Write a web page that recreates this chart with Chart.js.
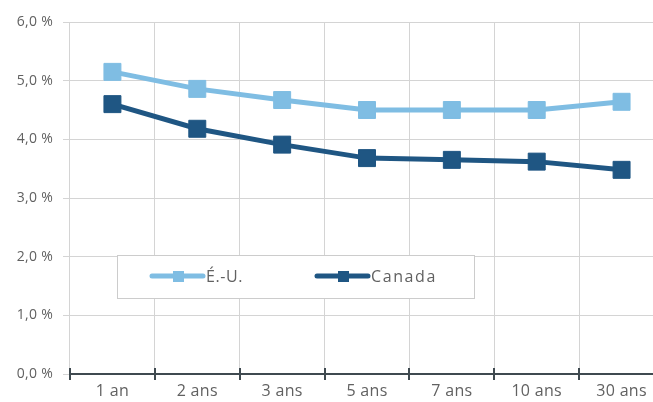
<!DOCTYPE html>
<html>
<head>
<meta charset="utf-8">
<script src="https://cdn.jsdelivr.net/npm/chart.js@4.4.1/dist/chart.umd.min.js"></script>
<style>
  html { margin: 0; padding: 0; background: #fff; overflow: hidden; }
  body { margin: 0; padding: 0; }
  #wrap { width: 665px; height: 402px; }
  canvas { display: block; }
</style>
</head>
<body>
<div id="wrap"><canvas id="chart" width="665" height="402"></canvas></div>
<script>
const categories = ['1 an', '2 ans', '3 ans', '5 ans', '7 ans', '10 ans', '30 ans'];
const usValues = [5.15, 4.86, 4.67, 4.50, 4.50, 4.50, 4.64];
const canadaValues = [4.60, 4.18, 3.91, 3.68, 3.65, 3.62, 3.48];
const seriesLabels = ['É.-U.', 'Canada'];
const yTicks = [0, 1, 2, 3, 4, 5, 6];

const FONT = '"Open Sans", Lato, sans-serif';
const TEXT = '#616161';

// a bit of letter spacing, closer to the original typeface
const spacing = {
  id: 'spacing',
  beforeDraw(chart) { chart.ctx.letterSpacing = '0.3px'; }
};

// dark tick marks crossing the x axis, at the category boundaries
const axisTicks = {
  id: 'axisTicks',
  afterDraw(chart) {
    const x = chart.scales.x;
    const ctx = chart.ctx;
    const step = (x.right - x.left) / categories.length;
    ctx.save();
    ctx.strokeStyle = '#3f4a50';
    ctx.lineWidth = 2;
    ctx.beginPath();
    ctx.moveTo(x.left, x.top);
    ctx.lineTo(x.right, x.top);
    for (let i = 0; i <= categories.length; i++) {
      const px = Math.round(x.left + i * step);
      ctx.moveTo(px, x.top - 6);
      ctx.lineTo(px, x.top + 6);
    }
    ctx.stroke();
    ctx.restore();
  }
};

// boxed legend sitting inside the plot
const boxLegend = {
  id: 'boxLegend',
  afterDraw(chart) {
    const ctx = chart.ctx;
    ctx.save();
    ctx.fillStyle = '#fff';
    ctx.strokeStyle = '#cccccc';
    ctx.lineWidth = 1;
    ctx.fillRect(117, 255, 357, 43);
    ctx.strokeRect(117.5, 255.5, 357, 43);
    const starts = [152, 317];
    const y = 276;
    chart.data.datasets.forEach((ds, i) => {
      const x0 = starts[i];
      ctx.strokeStyle = ds.borderColor;
      ctx.lineWidth = 5;
      ctx.lineCap = 'round';
      ctx.beginPath();
      ctx.moveTo(x0, y);
      ctx.lineTo(x0 + 51, y);
      ctx.stroke();
      ctx.fillStyle = ds.borderColor;
      ctx.fillRect(x0 + 21, y - 5, 11, 11);
      ctx.fillStyle = TEXT;
      ctx.font = '16px ' + FONT;
      ctx.letterSpacing = i === 0 ? '0.6px' : '1.6px';
      ctx.textBaseline = 'middle';
      ctx.fillText(ds.label, x0 + 54, y + 1);
    });
    ctx.restore();
  }
};

const series = (label, data, color) => ({
  label: label,
  data: data,
  borderColor: color,
  backgroundColor: color,
  borderWidth: 5,
  pointStyle: 'rect',
  pointRadius: 12,
  pointHoverRadius: 12,
  pointBorderWidth: 1,
  tension: 0,
  clip: false
});

new Chart(document.getElementById('chart'), {
  type: 'line',
  data: {
    labels: categories,
    datasets: [
      series(seriesLabels[0], usValues, '#7fbde3'),
      series(seriesLabels[1], canadaValues, '#1f5683')
    ]
  },
  options: {
    responsive: false,
    animation: false,
    layout: { autoPadding: false, padding: { top: 22, right: 1, left: 0, bottom: 0 } },
    plugins: { legend: { display: false }, tooltip: { enabled: false } },
    scales: {
      x: {
        offset: true,
        grid: { offset: true, color: '#d4d4d4', lineWidth: 1, drawTicks: false },
        border: { display: false },
        ticks: { color: TEXT, font: { family: FONT, size: 16 }, padding: 8, maxRotation: 0 },
        afterFit(s) { s.height = 28; }
      },
      y: {
        min: 0,
        max: 6,
        afterBuildTicks(s) { s.ticks = yTicks.map(v => ({ value: v })); },
        grid: { color: '#d4d4d4', lineWidth: 1, tickLength: 7 },
        border: { display: false },
        ticks: {
          color: TEXT,
          font: { family: FONT, size: 14 },
          padding: 10,
          callback: v => v.toFixed(1).replace('.', ',') + ' %'
        },
        afterFit(s) { s.width = 70; }
      }
    }
  },
  plugins: [spacing, axisTicks, boxLegend]
});
</script>
</body>
</html>
